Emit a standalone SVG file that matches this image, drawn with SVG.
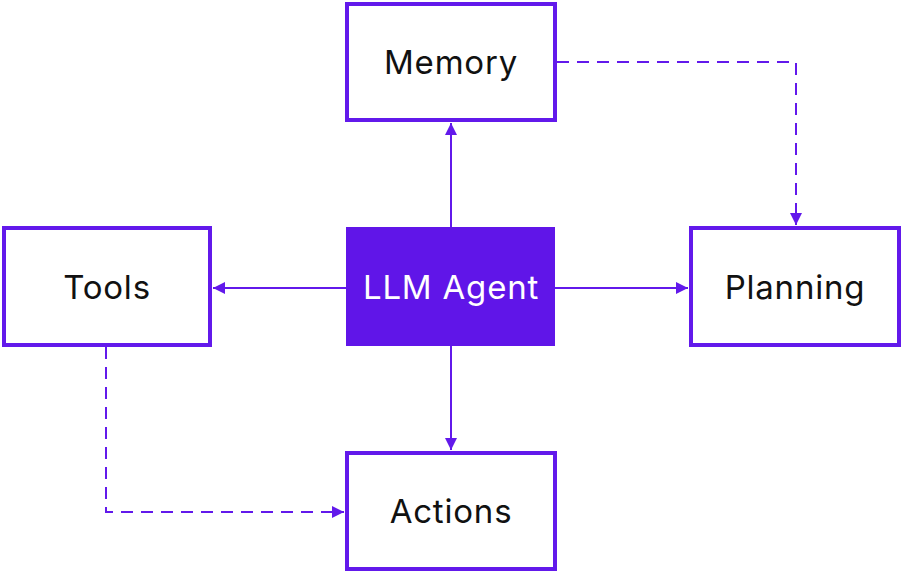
<svg xmlns="http://www.w3.org/2000/svg" width="904" height="574" viewBox="0 0 904 574">
<defs>
<style>
.box{fill:#fff;stroke:#6219EB;stroke-width:4}
.agent{fill:#6015E8}
.lbl{font-family:Inter,"Noto Sans",sans-serif;font-size:33px;letter-spacing:0.8px;fill:#111;text-anchor:middle;dominant-baseline:central}
.lblw{fill:#fff}
.con{fill:none;stroke:#6219EB;stroke-width:2}
.dash{stroke-dasharray:12 8}
</style>
<marker id="ah" viewBox="0 0 10 10" refX="10" refY="5" markerWidth="12" markerHeight="12" markerUnits="userSpaceOnUse" orient="auto">
<path d="M0,0 L10,5 L0,10 z" fill="#6219EB"/>
</marker>
</defs>
<rect width="904" height="574" fill="#fff"/>
<g id="connectors">
<line class="con" x1="451" y1="227" x2="451" y2="123" marker-end="url(#ah)"/>
<line class="con" x1="346" y1="288" x2="213" y2="288" marker-end="url(#ah)"/>
<line class="con" x1="555" y1="288" x2="688" y2="288" marker-end="url(#ah)"/>
<line class="con" x1="451" y1="346" x2="451" y2="450" marker-end="url(#ah)"/>
<path class="con dash" d="M557,62 H796 V225" marker-end="url(#ah)"/>
<path class="con dash" d="M106,347 V512 H344" marker-end="url(#ah)"/>
</g>
<g id="memory">
<rect class="box" x="347" y="4" width="208" height="116"/>
<text class="lbl" x="451" y="62">Memory</text>
</g>
<g id="llm-agent">
<rect class="agent" x="346" y="227" width="209" height="119"/>
<text class="lbl lblw" x="451" y="287">LLM Agent</text>
</g>
<g id="tools">
<rect class="box" x="4" y="228" width="206" height="117"/>
<text class="lbl" x="107" y="287">Tools</text>
</g>
<g id="planning">
<rect class="box" x="691" y="228" width="208" height="117"/>
<text class="lbl" x="795" y="287">Planning</text>
</g>
<g id="actions">
<rect class="box" x="347" y="453" width="208" height="116"/>
<text class="lbl" x="451" y="511">Actions</text>
</g>
</svg>
